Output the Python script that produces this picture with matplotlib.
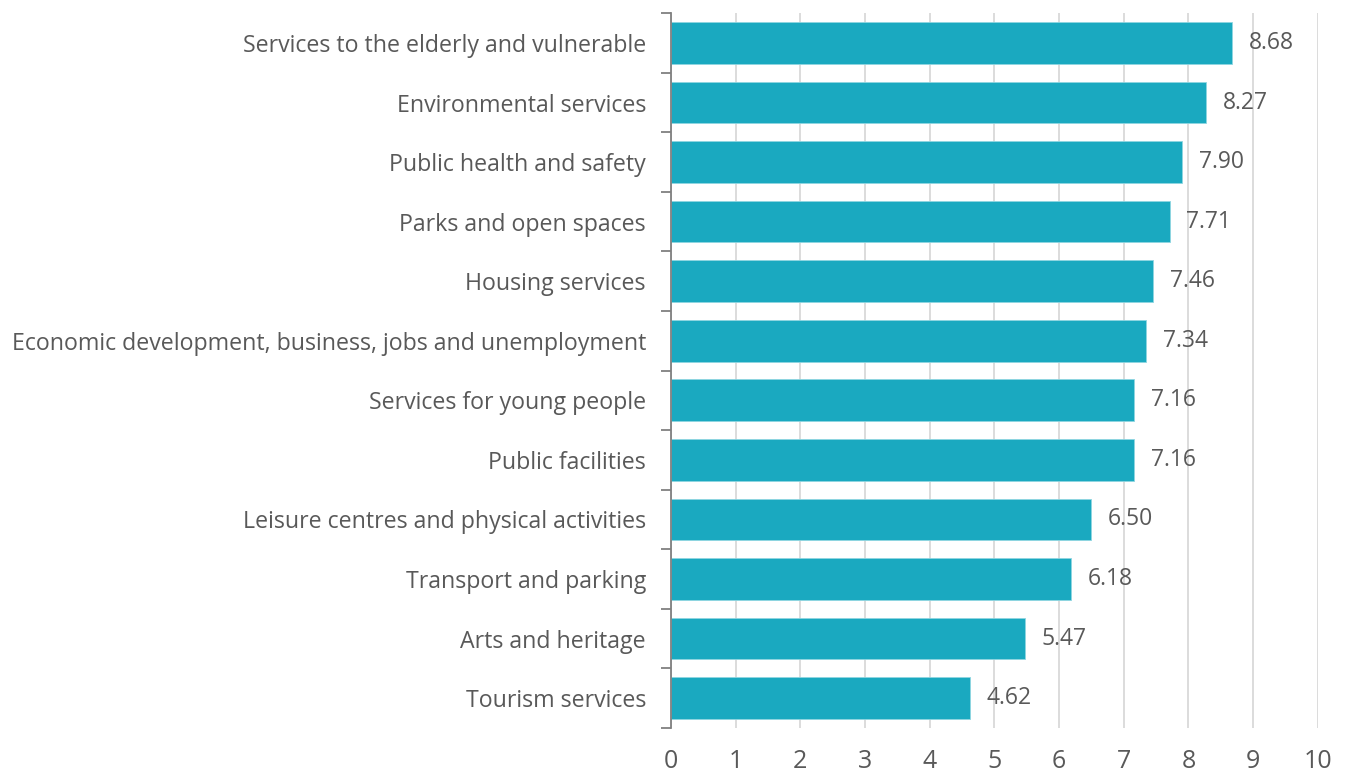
import matplotlib.pyplot as plt
import numpy as np

plt.rcParams['font.family'] = ['Open Sans', 'DejaVu Sans']

categories = [
    'Services to the elderly and vulnerable',
    'Environmental services',
    'Public health and safety',
    'Parks and open spaces',
    'Housing services',
    'Economic development, business, jobs and unemployment',
    'Services for young people',
    'Public facilities',
    'Leisure centres and physical activities',
    'Transport and parking',
    'Arts and heritage',
    'Tourism services',
]
scores = [8.68, 8.27, 7.90, 7.71, 7.46, 7.34, 7.16, 7.16, 6.50, 6.18, 5.47, 4.62]
labels = ['8.68', '8.27', '7.90', '7.71', '7.46', '7.34', '7.16', '7.16', '6.50', '6.18', '5.47', '4.62']
xticks = list(range(0, 11))

bar_color = '#1aa9c0'
text_color = '#595959'

fig = plt.figure(figsize=(13.46, 7.76), dpi=100)
ax = fig.add_axes([0.4985, 0.062, 0.4805, 0.921])

y = np.arange(len(categories))[::-1]
bars = ax.barh(y, scores, height=0.7, color=bar_color, edgecolor='#8fd6e1', linewidth=0.6, zorder=3)

for b, lab in zip(bars, labels):
    ax.text(b.get_width() + 0.26, b.get_y() + b.get_height() / 2, lab,
            va='center', ha='left', fontsize=16.5, color=text_color)

ax.set_xlim(0, 10)
ax.set_ylim(-0.5, len(categories) - 0.5)
ax.set_xticks(xticks)
ax.set_xticklabels([str(t) for t in xticks], fontsize=18, color=text_color)
ax.set_yticks(y)
ax.set_yticklabels(categories, fontsize=16.7, color=text_color)
ax.set_yticks(np.arange(-0.5, len(categories), 1), minor=True)

ax.tick_params(axis='x', length=0, pad=15)
ax.tick_params(axis='y', which='major', length=0, pad=18)
ax.tick_params(axis='y', which='minor', length=7, width=1.3, color='#808080')

ax.grid(axis='x', color='#d9d9d9', linewidth=1.3, zorder=0)
for s in ['top', 'right', 'bottom']:
    ax.spines[s].set_visible(False)
ax.spines['left'].set_color('#808080')
ax.spines['left'].set_linewidth(1.3)
ax.spines['left'].set_zorder(4)

fig.savefig('out.png', dpi=100)
